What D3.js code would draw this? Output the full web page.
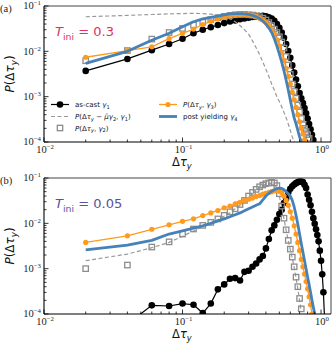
<!DOCTYPE html>
<html>
<head>
<meta charset="utf-8">
<script src="https://cdn.jsdelivr.net/npm/d3@7"></script>
<style>
  body { margin: 0; background: #fff; }
  svg { display: block; }
</style>
</head>
<body>
<script>
// bin centres (delta tau_y), shared by every series
var dt = [0.02, 0.04, 0.06, 0.08, 0.10, 0.12, 0.14, 0.16, 0.18, 0.20,
          0.22, 0.24, 0.26, 0.28, 0.30, 0.32, 0.34, 0.36, 0.38, 0.40,
          0.42, 0.44, 0.46, 0.48, 0.50, 0.52, 0.54, 0.56, 0.58, 0.60,
          0.62, 0.64, 0.66, 0.68, 0.70, 0.72, 0.74, 0.76, 0.78, 0.80,
          0.82, 0.84, 0.86, 0.88, 0.90, 0.92, 0.94, 0.96, 0.98, 1.00,
          1.02, 1.04, 1.06];

// panel (a), T_ini = 0.3
var aCast = [0.0037, 0.0068, 0.0106, 0.0145, 0.019, 0.025, 0.030, 0.034, 0.038, 0.042,
             0.0456, 0.048, 0.051, 0.053, 0.055, 0.057, 0.059, 0.060, 0.061, 0.059,
             0.056, 0.053, 0.047, 0.040, 0.033, 0.026, 0.020, 0.0145, 0.0102, 0.0072,
             0.0049, 0.0034, 0.0024, 0.0017, 0.0012, 0.00092, 0.00072, 0.00056, 0.00043, 0.00033,
             0.00025, 0.00019, 0.000145, 0.00011];
var aShift = [0.058, 0.062, 0.065, 0.067, 0.068, 0.069, 0.068, 0.066, 0.063, 0.058,
              0.052, 0.045, 0.037, 0.030, 0.024, 0.017, 0.012, 0.0085, 0.0058, 0.0040,
              0.0028, 0.0019, 0.0014, 0.0010, 0.00078, 0.0006, 0.00045, 0.00034, 0.00025, 0.00018,
              0.00013, 0.0001];
var aG2 = [0.0062, 0.0104, 0.0186, 0.026, 0.032, 0.038, 0.044, 0.050, 0.055, 0.059,
           0.062, 0.064, 0.065, 0.065, 0.064, 0.063, 0.061, 0.058, 0.054, 0.049,
           0.043, 0.037, 0.031, 0.026, 0.021, 0.016, 0.0118, 0.0077, 0.0050, 0.0031,
           0.0019, 0.0013, 0.00092, 0.00065, 0.00046, 0.00033, 0.00024, 0.0002, 0.00017, 0.000145,
           0.00012];
var aG3 = [0.0074, 0.0104, 0.0126, 0.019, 0.025, 0.031, 0.039, 0.046, 0.052, 0.057,
           0.061, 0.063, 0.064, 0.065, 0.064, 0.062, 0.059, 0.054, 0.049, 0.043,
           0.036, 0.030, 0.024, 0.018, 0.0130, 0.0092, 0.0063, 0.0042, 0.0028, 0.0019,
           0.00125, 0.00085, 0.00058, 0.0004, 0.00028, 0.0002, 0.00015, 0.00011, 0.00008];
var aG4 = [0.0054, 0.0100, 0.0175, 0.025, 0.035, 0.045, 0.052, 0.056, 0.060, 0.064,
           0.067, 0.068, 0.068, 0.067, 0.065, 0.062, 0.058, 0.053, 0.047, 0.040,
           0.033, 0.026, 0.019, 0.013, 0.0088, 0.0058, 0.0037, 0.0023, 0.0014, 0.00085,
           0.00052, 0.00034, 0.00025, 0.00018, 0.00013, 0.0001, 0.00008];

// panel (b), T_ini = 0.05
var bCast = [null, 0.00006, 0.000155, 0.00015, 0.00017, 0.00016, 0.000105, 0.00017, 0.00035, 0.00045,
             0.0006, 0.00062, 0.00055, 0.00085, 0.0009, 0.0011, 0.0013, 0.0016, 0.0019, 0.0028,
             0.0045, 0.007, 0.009, 0.012, 0.016, 0.020, 0.028, 0.035, 0.048, 0.058,
             0.066, 0.072, 0.077, 0.081, 0.083, 0.084, 0.081, 0.071, 0.060, 0.043,
             0.033, 0.025, 0.018, 0.013, 0.0098, 0.0074, 0.0055, 0.0040, 0.0025, 0.0015,
             0.00075, 0.0003, 0.00008];
var bShift = [0.0015, 0.0021, 0.0029, 0.0038, 0.0052, 0.0068, 0.0085, 0.0102, 0.0122, 0.0145,
              0.0172, 0.021, 0.025, 0.030, 0.037, 0.045, 0.053, 0.061, 0.068, 0.073,
              0.076, 0.076, 0.072, 0.060, 0.040, 0.023, 0.0125, 0.0070, 0.0041, 0.0026,
              0.0017, 0.00105, 0.00062, 0.00036, 0.0002, 0.00011];
var bG2 = [0.0010, 0.0012, 0.0030, 0.0039, 0.0058, 0.0075, 0.0090, 0.0105, 0.0125, 0.0150,
           0.018, 0.021, 0.026, 0.032, 0.040, 0.048, 0.056, 0.064, 0.070, 0.075,
           0.078, 0.080, 0.078, 0.068, 0.045, 0.024, 0.013, 0.0072, 0.0042, 0.0027,
           0.0018, 0.0011, 0.00065, 0.0004, 0.00022, 0.00013];
var bG3 = [0.0038, 0.0053, 0.0074, 0.0093, 0.0111, 0.0126, 0.0148, 0.017, 0.0192, 0.022,
           0.024, 0.027, 0.029, 0.032, 0.034, 0.036, 0.039, 0.041, 0.044, 0.046,
           0.048, 0.050, 0.052, 0.053, 0.052, 0.047, 0.040, 0.032, 0.025, 0.018,
           0.013, 0.0088, 0.0058, 0.0038, 0.0025, 0.0016, 0.0011, 0.00076, 0.00052, 0.00036,
           0.00024, 0.00016, 0.0001];
var bG4 = [0.0026, 0.0033, 0.0042, 0.0058, 0.0068, 0.0078, 0.0088, 0.0100, 0.0113, 0.0125,
           0.0140, 0.0155, 0.0170, 0.0190, 0.021, 0.023, 0.025, 0.027, 0.033, 0.040,
           0.046, 0.051, 0.055, 0.058, 0.060, 0.059, 0.055, 0.050, 0.045, 0.040,
           0.032, 0.023, 0.015, 0.0095, 0.0058, 0.0036, 0.0023, 0.0015, 0.00098, 0.00065,
           0.00045, 0.0003, 0.0002, 0.00014, 0.0001];

// axis decades
var xTickExp = [-2, -1, 0];
var yTickExp = [-4, -3, -2, -1];

var panelLetters = ['(a)', '(b)'];
var tiniValues = ['0.3', '0.05'];

var app = {
  init: function() {
    app.render();
  },
  render: function() {
    var width = 332;
    var height = 345;
    var left = 44, right = 331;
    var ph = 136;

    var svg = d3.select('body').append('svg')
      .attr('width', width)
      .attr('height', height)
      .style('font-family', 'DejaVu Sans, sans-serif');

    var x = d3.scaleLog().domain([0.01, 1.18]).range([left, right]);

    var cBlack = '#000';
    var cGrey = '#8c8c8c';
    var cOrange = '#ff9a1f';
    var cBlue = '#4682b8';

    // rich text with italic parts and subscripts
    var rich = function(t, parts, fs) {
      var shift = 0;
      parts.forEach(function(p) {
        var s = t.append('tspan').text(p.t);
        var want = p.sub ? fs * 0.28 : 0;
        s.attr('dy', want - shift);
        shift = want;
        if (p.sub) s.attr('font-size', fs * 0.72);
        if (p.i) s.style('font-style', 'italic');
      });
    };

    var pow10 = function(t, e) {
      t.append('tspan').text('10');
      t.append('tspan').attr('dy', -3.8).attr('font-size', 6.8)
        .text(e < 0 ? '\u2212' + Math.abs(e) : String(e));
    };

    var pts = function(ys) {
      var out = [];
      ys.forEach(function(v, i) {
        if (v !== null) out.push([dt[i], v]);
      });
      return out;
    };

    var drawPanel = function(k, top, s, tColor) {
      var y = d3.scaleLog().domain([1e-4, 1e-1]).range([top + ph, top]);
      var bottom = top + ph;

      svg.append('clipPath').attr('id', 'clip' + k)
        .append('rect')
        .attr('x', left).attr('y', top)
        .attr('width', right - left).attr('height', ph);

      var plot = svg.append('g').attr('clip-path', 'url(#clip' + k + ')');
      var line = d3.line()
        .x(function(d) { return x(d[0]); })
        .y(function(d) { return y(d[1]); });

      // as-cast gamma1
      var castPts = pts(s.cast);
      plot.append('path').datum(castPts)
        .attr('d', line).attr('fill', 'none')
        .attr('stroke', cBlack).attr('stroke-width', 1.2);
      plot.selectAll('circle.cast').data(castPts).enter()
        .append('circle').attr('class', 'cast')
        .attr('cx', function(d) { return x(d[0]); })
        .attr('cy', function(d) { return y(d[1]); })
        .attr('r', 3.3).attr('fill', cBlack);

      // shifted distribution (dashed)
      plot.append('path').datum(pts(s.shift))
        .attr('d', line).attr('fill', 'none')
        .attr('stroke', '#999').attr('stroke-width', 1.2)
        .attr('stroke-dasharray', '4,2.5');

      // gamma2 squares
      plot.selectAll('rect.g2').data(pts(s.g2)).enter()
        .append('rect').attr('class', 'g2')
        .attr('x', function(d) { return x(d[0]) - 2.7; })
        .attr('y', function(d) { return y(d[1]) - 2.7; })
        .attr('width', 5.4).attr('height', 5.4)
        .attr('fill', 'none').attr('stroke', cGrey).attr('stroke-width', 1.3);

      // gamma3
      var g3Pts = pts(s.g3);
      plot.append('path').datum(g3Pts)
        .attr('d', line).attr('fill', 'none')
        .attr('stroke', cOrange).attr('stroke-width', 1.3);
      plot.selectAll('circle.g3').data(g3Pts).enter()
        .append('circle').attr('class', 'g3')
        .attr('cx', function(d) { return x(d[0]); })
        .attr('cy', function(d) { return y(d[1]); })
        .attr('r', 2.6).attr('fill', cOrange);

      // post yielding gamma4
      plot.append('path').datum(pts(s.g4))
        .attr('d', line).attr('fill', 'none')
        .attr('stroke', cBlue).attr('stroke-width', 2.8)
        .attr('stroke-linejoin', 'round');

      // frame
      svg.append('line').attr('x1', left).attr('x2', right).attr('y1', top).attr('y2', top)
        .attr('stroke', '#444').attr('stroke-width', 1);
      svg.append('line').attr('x1', right).attr('x2', right).attr('y1', top).attr('y2', bottom)
        .attr('stroke', '#444').attr('stroke-width', 1);
      svg.append('line').attr('x1', left).attr('x2', right).attr('y1', bottom).attr('y2', bottom)
        .attr('stroke', '#000').attr('stroke-width', 1.1);
      svg.append('line').attr('x1', left).attr('x2', left).attr('y1', top).attr('y2', bottom)
        .attr('stroke', '#000').attr('stroke-width', 1.1);

      // ticks, pointing inward
      var ax = svg.append('g').attr('stroke', '#000').attr('stroke-width', 0.8);
      x.ticks().forEach(function(v) {
        var major = Math.abs(Math.log10(v) - Math.round(Math.log10(v))) < 1e-6;
        ax.append('line')
          .attr('x1', x(v)).attr('x2', x(v))
          .attr('y1', bottom).attr('y2', bottom - (major ? 4.5 : 2.5));
      });
      y.ticks().forEach(function(v) {
        var major = Math.abs(Math.log10(v) - Math.round(Math.log10(v))) < 1e-6;
        ax.append('line')
          .attr('x1', left).attr('x2', left + (major ? 4.5 : 2.5))
          .attr('y1', y(v)).attr('y2', y(v));
      });

      xTickExp.forEach(function(e) {
        var t = svg.append('text')
          .attr('x', x(Math.pow(10, e)) + 1).attr('y', bottom + 10.5)
          .attr('text-anchor', 'middle')
          .attr('font-family', 'Liberation Serif, serif')
          .attr('font-size', 10.5).attr('fill', '#222');
        pow10(t, e);
      });
      yTickExp.forEach(function(e) {
        var t = svg.append('text')
          .attr('x', left - 3).attr('y', y(Math.pow(10, e)) + 3.2)
          .attr('text-anchor', 'end')
          .attr('font-family', 'Liberation Serif, serif')
          .attr('font-size', 10.5).attr('fill', '#222');
        pow10(t, e);
      });

      // axis labels
      var xl = svg.append('text')
        .attr('x', 172).attr('y', bottom + 23.5)
        .attr('font-size', 11.5).attr('fill', '#111');
      rich(xl, [{t: '\u0394'}, {t: '\u03c4', i: 1}, {t: 'y', i: 1, sub: 1}], 11.5);

      var yl = svg.append('text')
        .attr('transform', 'translate(14,' + (top + 68) + ') rotate(-90)')
        .attr('text-anchor', 'middle')
        .attr('font-size', 12).attr('fill', '#111');
      rich(yl, [{t: 'P', i: 1}, {t: '(\u0394'}, {t: '\u03c4', i: 1}, {t: 'y', i: 1, sub: 1}, {t: ')'}], 12);

      svg.append('text')
        .attr('x', 0).attr('y', top + 6)
        .attr('font-family', 'Liberation Serif, serif')
        .attr('font-size', 10.5).attr('fill', '#222')
        .text(panelLetters[k]);

      var tt = svg.append('text')
        .attr('x', 55).attr('y', top + 30)
        .attr('font-size', 13).attr('fill', tColor);
      rich(tt, [{t: 'T', i: 1}, {t: 'ini', sub: 1}, {t: ' = ' + tiniValues[k]}], 13);
    };

    drawPanel(0, 6, {cast: aCast, shift: aShift, g2: aG2, g3: aG3, g4: aG4}, '#de3163');
    drawPanel(1, 178, {cast: bCast, shift: bShift, g2: bG2, g3: bG3, g4: bG4}, '#5b4f9e');

    // legend in panel (a)
    var lg = svg.append('g').attr('font-size', 7).attr('fill', '#111');
    var rows = [
      {x: 51, y: 104.5, kind: 'cast', parts: [{t: 'as-cast '}, {t: '\u03b3', i: 1}, {t: '1', sub: 1}]},
      {x: 51, y: 116.5, kind: 'shift', parts: [{t: 'P', i: 1}, {t: '(\u0394'}, {t: '\u03c4', i: 1}, {t: 'y', i: 1, sub: 1},
        {t: ' \u2212 '}, {t: '\u03bc\u0304\u03b3', i: 1}, {t: '2', sub: 1}, {t: ', '}, {t: '\u03b3', i: 1}, {t: '1', sub: 1}, {t: ')'}]},
      {x: 51, y: 128, kind: 'g2', parts: [{t: 'P', i: 1}, {t: '(\u0394'}, {t: '\u03c4', i: 1}, {t: 'y', i: 1, sub: 1},
        {t: ', '}, {t: '\u03b3', i: 1}, {t: '2', sub: 1}, {t: ')'}]},
      {x: 159, y: 104.5, kind: 'g3', parts: [{t: 'P', i: 1}, {t: '(\u0394'}, {t: '\u03c4', i: 1}, {t: 'y', i: 1, sub: 1},
        {t: ', '}, {t: '\u03b3', i: 1}, {t: '3', sub: 1}, {t: ')'}]},
      {x: 159, y: 116.5, kind: 'g4', parts: [{t: 'post yielding '}, {t: '\u03b3', i: 1}, {t: '4', sub: 1}]}
    ];
    rows.forEach(function(r) {
      var x0 = r.x, x1 = r.x + 18, xm = r.x + 9;
      if (r.kind === 'cast') {
        lg.append('line').attr('x1', x0).attr('x2', x1).attr('y1', r.y).attr('y2', r.y)
          .attr('stroke', cBlack).attr('stroke-width', 1.2);
        lg.append('circle').attr('cx', xm).attr('cy', r.y).attr('r', 3.3).attr('fill', cBlack);
      } else if (r.kind === 'shift') {
        lg.append('line').attr('x1', x0).attr('x2', x1).attr('y1', r.y).attr('y2', r.y)
          .attr('stroke', '#999').attr('stroke-width', 1.2).attr('stroke-dasharray', '4,2.5');
      } else if (r.kind === 'g2') {
        lg.append('rect').attr('x', xm - 2.7).attr('y', r.y - 2.7).attr('width', 5.4).attr('height', 5.4)
          .attr('fill', 'none').attr('stroke', cGrey).attr('stroke-width', 1.3);
      } else if (r.kind === 'g3') {
        lg.append('line').attr('x1', x0).attr('x2', x1).attr('y1', r.y).attr('y2', r.y)
          .attr('stroke', cOrange).attr('stroke-width', 1.3);
        lg.append('circle').attr('cx', xm).attr('cy', r.y).attr('r', 2.6).attr('fill', cOrange);
      } else {
        lg.append('line').attr('x1', x0).attr('x2', x1).attr('y1', r.y).attr('y2', r.y)
          .attr('stroke', cBlue).attr('stroke-width', 2.8);
      }
      var t = lg.append('text').attr('x', r.x + 24).attr('y', r.y + 2.5);
      rich(t, r.parts, 7);
    });
  }
};

app.init();
</script>
</body>
</html>
